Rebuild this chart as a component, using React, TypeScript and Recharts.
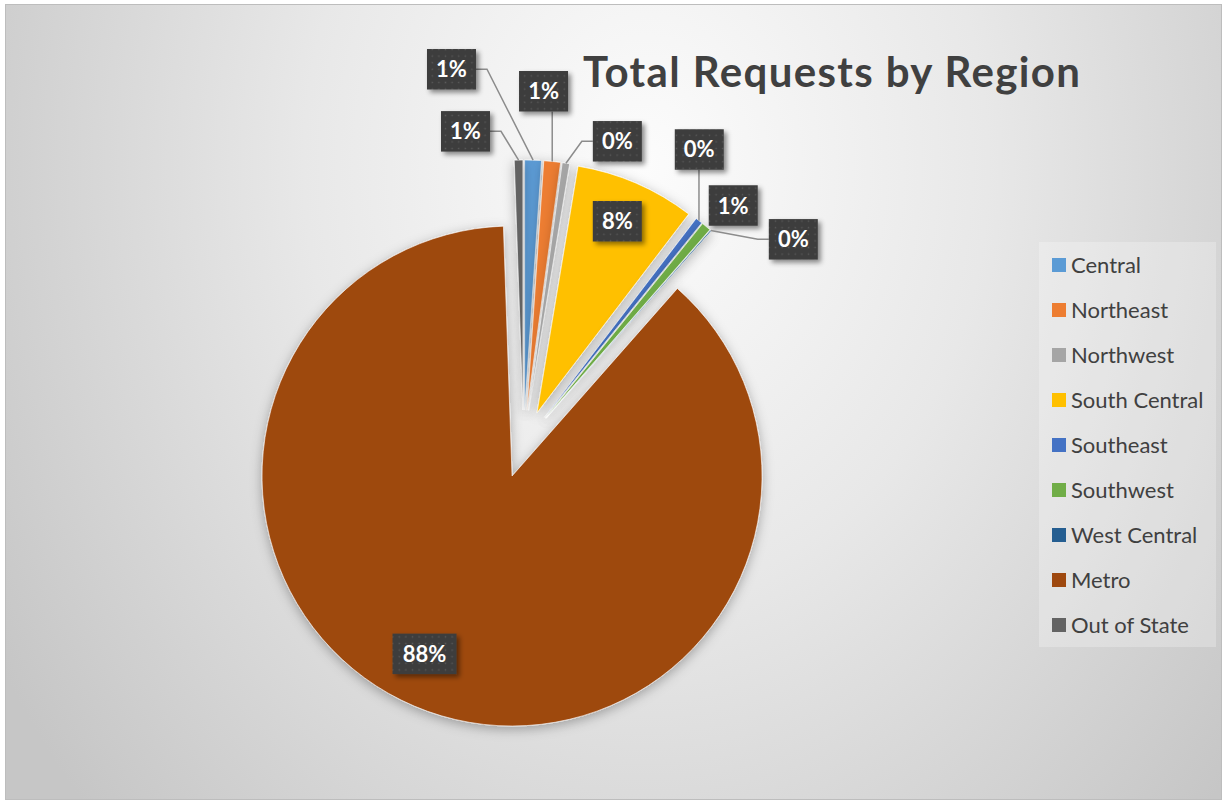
import React from 'react';
import { PieChart, Pie, Cell, Legend, Sector } from 'recharts';

// ---- data ----
const regions = ['Central', 'Northeast', 'Northwest', 'South Central', 'Southeast', 'Southwest', 'West Central', 'Metro', 'Out of State'];
const requests = [43, 43, 19, 310, 18, 24, 3, 3518, 22];
const colors = ['#5b9bd5', '#ed7d31', '#a5a5a5', '#ffc000', '#4472c4', '#70ad47', '#255e91', '#9e480e', '#636363'];
const title = 'Total Requests by Region';

// ---- label layout (offset of label box centre from exploded slice outer mid point) ----
const labelDx = [-81.6, -8.7, 51.4, -19, 0.3, 27, 82.5, -3.2, -53.1];
const labelDy = [-90.9, -70.2, -21.9, 37.9, -71.2, -21.1, 8.8, -57.5, -28.7];
const labelLeader = [true, true, true, false, true, false, true, false, true];

const data = regions.map((name, i) => ({ name, value: requests[i] }));

const EXPLODE = 34;
const RAD = Math.PI / 180;

const renderSlice = (props: any) => {
  const { cx, cy, midAngle, outerRadius, startAngle, endAngle, fill, index } = props;
  const dx = EXPLODE * Math.cos(-midAngle * RAD);
  const dy = EXPLODE * Math.sin(-midAngle * RAD);
  return (
    <g key={`slice-${index}`} filter="url(#sliceShadow)">
      <Sector
        cx={cx + dx}
        cy={cy + dy}
        innerRadius={0}
        outerRadius={outerRadius}
        startAngle={startAngle}
        endAngle={endAngle}
        fill={fill}
        fillOpacity={1}
        stroke="#ffffff"
        strokeOpacity={0.6}
        strokeWidth={1}
      />
    </g>
  );
};

const renderLabel = (props: any) => {
  const { cx, cy, midAngle, outerRadius, percent, index } = props;
  const r = outerRadius + EXPLODE;
  const px = cx + r * Math.cos(-midAngle * RAD);
  const py = cy + r * Math.sin(-midAngle * RAD);
  const bx = px + labelDx[index];
  const by = py + labelDy[index];
  const text = `${Math.round(percent * 100)}%`;
  const hw = (19 + 15 * text.length) / 2;
  const hh = 20.25;
  let leader: React.ReactNode = null;
  if (labelLeader[index]) {
    if (Math.abs(px - bx) <= hw) {
      const ey = py > by ? by + hh : by - hh;
      leader = <path d={`M${px},${ey} L${px},${py}`} stroke="#8c8c8c" strokeWidth={1.5} fill="none" />;
    } else {
      const side = px > bx ? 1 : -1;
      const ax = bx + side * hw;
      const sx = ax + side * 11;
      leader = <path d={`M${ax},${by} L${sx},${by} L${px},${py}`} stroke="#8c8c8c" strokeWidth={1.5} fill="none" />;
    }
  }
  return (
    <g key={`label-${index}`}>
      {leader}
      <rect x={bx - hw} y={by - hh} width={hw * 2} height={hh * 2} fill="url(#dotPattern)" filter="url(#boxShadow)" />
      <text x={bx} y={by + 8} textAnchor="middle" fill="#ffffff" fontFamily="Lato, 'Open Sans', sans-serif" fontWeight={700} fontSize={22}>
        {text}
      </text>
    </g>
  );
};

const renderLegend = (props: any) => {
  const raw: any[] = (props.payload || []).filter((p: any) => p.type !== 'none');
  const seen = new Set<string>();
  const items = raw
    .filter((p: any) => {
      if (seen.has(p.value)) return false;
      seen.add(p.value);
      return true;
    })
    .sort((a: any, b: any) => regions.indexOf(a.value) - regions.indexOf(b.value));
  return (
    <div
      style={{
        width: 177,
        height: 405,
        background: 'rgba(255,255,255,0.25)',
        fontFamily: "Lato, 'Open Sans', sans-serif",
        fontSize: 22,
        color: '#404040',
      }}
    >
      {items.map((p: any) => (
        <div key={p.value} style={{ height: 45, display: 'flex', alignItems: 'center', paddingLeft: 13, boxSizing: 'border-box' }}>
          <span style={{ display: 'inline-block', width: 14, height: 14, background: p.color, marginRight: 5, flex: 'none' }} />
          <span style={{ lineHeight: '22px', whiteSpace: 'nowrap' }}>{p.value}</span>
        </div>
      ))}
    </div>
  );
};

export default function App() {
  return (
    <div style={{ position: 'absolute', left: 0, top: 0, width: 1226, height: 801, background: '#ffffff', overflow: 'hidden' }}>
      <svg width={0} height={0} style={{ position: 'absolute' }}>
        <defs>
          <pattern id="dotPattern" width={6.6} height={6.6} patternUnits="userSpaceOnUse">
            <rect width={6.6} height={6.6} fill="#3d3d3d" />
            <rect x={2.6} y={2.6} width={1.4} height={1.4} fill="#5a5a5a" />
          </pattern>
          <filter id="boxShadow" x="-30%" y="-30%" width="170%" height="170%">
            <feDropShadow dx={3} dy={3} stdDeviation={2.5} floodColor="#000000" floodOpacity={0.45} />
          </filter>
          <filter id="sliceShadow" filterUnits="userSpaceOnUse" x={0} y={0} width={1226} height={801}>
            <feDropShadow dx={0} dy={3} stdDeviation={6} floodColor="#000000" floodOpacity={0.3} />
          </filter>
        </defs>
      </svg>
      <div
        style={{
          position: 'absolute',
          left: 5,
          top: 4,
          width: 1217,
          height: 796,
          boxSizing: 'border-box',
          border: '1px solid #bdbdbd',
          background: 'radial-gradient(760px 950px at 640px 160px, #fcfcfc 0%, #e8e8e8 45%, #c6c6c6 100%)',
        }}
      />
      <div style={{ position: 'absolute', left: 0, top: 0 }}>
        <PieChart width={1226} height={801} margin={{ top: 0, right: 0, bottom: 0, left: 0 }}>
          <text
            x={831.5}
            y={87}
            textAnchor="middle"
            fill="#404040"
            fontFamily="Lato, 'Open Sans', sans-serif"
            fontWeight={700}
            fontSize={42}
            textLength={497}
          >
            {title}
          </text>
          <Pie
            data={data}
            dataKey="value"
            nameKey="name"
            cx={523.5}
            cy={444}
            outerRadius={250}
            startAngle={90}
            endAngle={-270}
            stroke="none"
            isAnimationActive={false}
            label={renderSlice}
            labelLine={false}
          >
            {colors.map((c, i) => (
              <Cell key={`c-${i}`} fill={c} fillOpacity={0} />
            ))}
          </Pie>
          <Pie
            data={data}
            dataKey="value"
            nameKey="name"
            cx={523.5}
            cy={444}
            outerRadius={250}
            startAngle={90}
            endAngle={-270}
            stroke="none"
            legendType="none"
            isAnimationActive={false}
            label={renderLabel}
            labelLine={false}
          >
            {colors.map((c, i) => (
              <Cell key={`l-${i}`} fill={c} fillOpacity={0} />
            ))}
          </Pie>
          <Legend
            layout="vertical"
            align="right"
            verticalAlign="top"
            content={renderLegend}
            wrapperStyle={{ left: 1039, top: 242, right: 'auto', bottom: 'auto', width: 177, height: 405 }}
          />
        </PieChart>
      </div>
    </div>
  );
}
